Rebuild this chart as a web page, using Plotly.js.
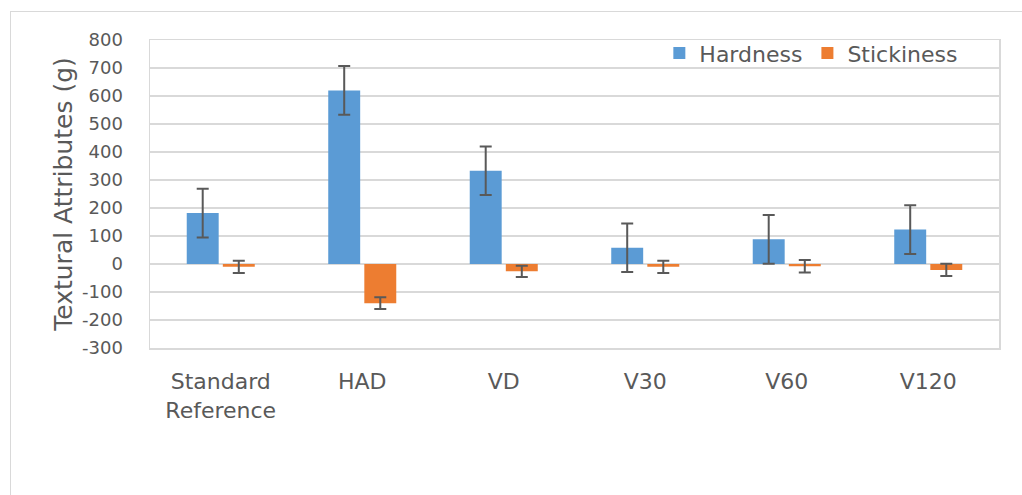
<!DOCTYPE html>
<html>
<head>
<meta charset="utf-8">
<script src="https://cdn.plot.ly/plotly-3.0.1.min.js"></script>
<style>
  html, body { margin: 0; padding: 0; background: #ffffff; overflow: hidden; }
  #chart { position: absolute; left: 0; top: 0; width: 1022px; height: 495px; }
  #frame { position: absolute; left: 10px; top: 11px; width: 1100px; height: 600px;
           border: 1.5px solid #d9d9d9; pointer-events: none; }
</style>
</head>
<body>
<div id="chart"></div>
<div id="frame"></div>
<script>
const categories = ["Standard<br>Reference", "HAD", "VD", "V30", "V60", "V120"];
const hardness = [182, 620, 333, 58, 88, 123];
const hardnessErr = [87, 87, 87, 87, 87, 87];
const stickiness = [-10, -140, -26, -10, -8, -21];
const stickinessErr = [22, 21, 20, 22, 22, 22];
const yTicks = [-300, -200, -100, 0, 100, 200, 300, 400, 500, 600, 700, 800];

const errStyle = { type: "data", visible: true, color: "#595959", thickness: 2, width: 6 };

const traces = [
  {
    type: "bar", name: "Hardness", x: categories, y: hardness,
    marker: { color: "#5b9bd5" },
    error_y: Object.assign({ array: hardnessErr }, errStyle)
  },
  {
    type: "bar", name: "Stickiness", x: categories, y: stickiness,
    marker: { color: "#ed7d31" },
    error_y: Object.assign({ array: stickinessErr }, errStyle)
  }
];

const layout = {
  width: 1022, height: 495,
  margin: { l: 150, r: 23, t: 40, b: 147 },
  paper_bgcolor: "rgba(0,0,0,0)",
  plot_bgcolor: "#ffffff",
  font: { family: "DejaVu Sans, Verdana, sans-serif", color: "#595959" },
  barmode: "group",
  bargap: 0.49,
  bargroupgap: 0.115,
  showlegend: true,
  legend: {
    orientation: "h", x: 0.958, xanchor: "right", y: 1.025, yanchor: "top",
    font: { size: 22, color: "#595959" }, bgcolor: "rgba(255,255,255,0)",
    itemwidth: 30, traceorder: "normal"
  },
  xaxis: {
    tickfont: { size: 22, color: "#595959" },
    showline: true, mirror: true, linecolor: "#d9d9d9", linewidth: 1.5,
    ticks: "", ticklabelstandoff: 13, showgrid: false
  },
  yaxis: {
    range: [-300, 800],
    tickvals: yTicks,
    ticktext: yTicks.map(String),
    tickfont: { size: 18, color: "#595959" },
    showgrid: true, gridcolor: "#d9d9d9", gridwidth: 1.5,
    zeroline: true, zerolinecolor: "#d9d9d9", zerolinewidth: 1.5,
    showline: true, mirror: true, linecolor: "#d9d9d9", linewidth: 1.5,
    ticks: "", ticklabelstandoff: 22,
    title: { text: "Textural Attributes (g)", font: { size: 25, color: "#595959" }, standoff: 2 }
  }
};

Plotly.newPlot("chart", traces, layout, { displayModeBar: false, staticPlot: true });
</script>
</body>
</html>
